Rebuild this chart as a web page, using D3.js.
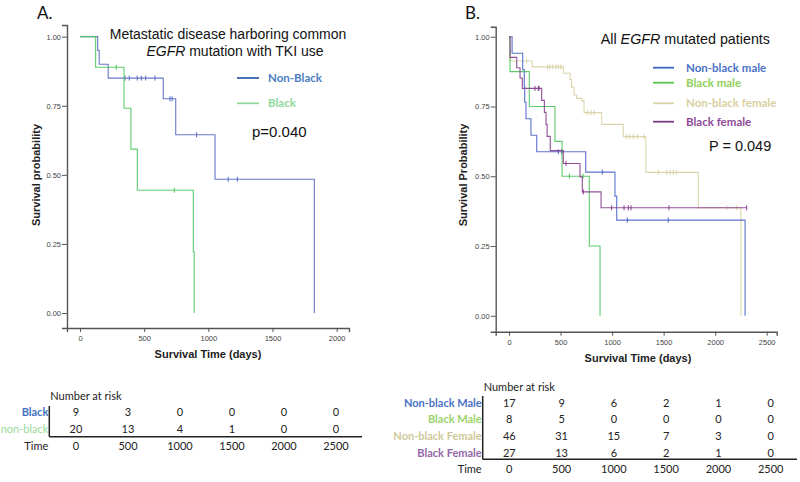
<!DOCTYPE html>
<html><head><meta charset="utf-8">
<script src="https://cdn.jsdelivr.net/npm/d3@7"></script>
<style>body{margin:0;background:#fff}svg{display:block}</style>
</head><body>
<svg id="c" width="800" height="482"></svg>
<script>
// ---------- Data ----------
const aTicksX = [0, 500, 1000, 1500, 2000];
const aTicksY = [0, 0.25, 0.5, 0.75, 1];
const bTicksX = [0, 500, 1000, 1500, 2000, 2500];
const bTicksY = [0, 0.25, 0.5, 0.75, 1];

// Panel A
const aNonBlackTimes = [0, 138, 150, 220, 649, 746, 1052, 1826];
const aNonBlackSurv = [1, 0.95, 0.90, 0.85, 0.775, 0.645, 0.484, 0];
const aNonBlackCensor = [351, 384, 446, 478, 512, 584, 701, 718, 909, 1155, 1226];
const aBlackTimes = [0, 122, 343, 397, 447, 883, 890];
const aBlackSurv = [1, 0.889, 0.741, 0.593, 0.444, 0.222, 0];
const aBlackCensor = [283, 735];

// Panel B
const bNbMaleTimes = [0, 30, 133, 148, 152, 165, 213, 269, 744, 1028, 1045, 2290];
const bNbMaleSurv = [1, 0.941, 0.882, 0.824, 0.765, 0.706, 0.647, 0.588, 0.515, 0.429, 0.343, 0];
const bNbMaleCensor = [478, 511, 905, 1148, 1545];
const bBlackMaleTimes = [0, 10, 197, 446, 515, 779, 883];
const bBlackMaleSurv = [1, 0.875, 0.75, 0.625, 0.5, 0.25, 0];
const bBlackMaleCensor = [585, 718];
const bNbFemaleTimes = [0, 10, 226, 527, 592, 608, 631, 657, 705, 728, 899, 1109, 1328, 1836, 2250];
const bNbFemaleSurv = [1, 0.913, 0.892, 0.869, 0.847, 0.819, 0.791, 0.779, 0.771, 0.728, 0.686, 0.642, 0.514, 0.387, 0];
const bNbFemaleCensor = [172, 375, 397, 424, 453, 478, 504, 763, 795, 828, 1142, 1174, 1206, 1245, 1310, 1449, 1530, 1562, 1595, 1627, 2112, 2209];
const bBlackFemaleTimes = [0, 10, 75, 107, 129, 317, 343, 359, 370, 400, 527, 689, 711, 893, 2306];
const bBlackFemaleSurv = [1, 0.926, 0.889, 0.852, 0.815, 0.772, 0.729, 0.686, 0.643, 0.592, 0.546, 0.498, 0.444, 0.387, 0.387];
const bBlackFemaleCensor = [252, 285, 291, 553, 721, 996, 1116, 1158, 1184, 1552, 2306];

// Risk tables
const riskTimes = [0, 500, 1000, 1500, 2000, 2500];
const aRiskLabels = ["Black", "non-black"];
const aRiskBlack = [9, 3, 0, 0, 0, 0];
const aRiskNonBlack = [20, 13, 4, 1, 0, 0];
const bRiskLabels = ["Non-black Male", "Black Male", "Non-black Female", "Black Female"];
const bRiskNbMale = [17, 9, 6, 2, 1, 0];
const bRiskBlackMale = [8, 5, 0, 0, 0, 0];
const bRiskNbFemale = [46, 31, 15, 7, 3, 0];
const bRiskBlackFemale = [27, 13, 6, 2, 1, 0];

const aLegend = ["Non-Black", "Black"];
const bLegend = ["Non-black male", "Black male", "Non-black female", "Black female"];

// ---------- Drawing ----------
const svg = d3.select("#c");
const TICKFONT = "Liberation Sans, Arial, sans-serif";
const CAL = "Lato, 'Open Sans', sans-serif";

function survAt(times, surv, t) {
  let s = surv[0];
  for (let i = 0; i < times.length; i++) { if (times[i] <= t) s = surv[i]; }
  return s;
}

function drawPanel(cfg) {
  const x = d3.scaleLinear().domain(cfg.xDom).range(cfg.xRange);
  const y = d3.scaleLinear().domain(cfg.yDom).range(cfg.yRange);
  const g = svg.append("g");
  const ya = g.append("g").attr("transform", `translate(${cfg.xRange[0]},0)`)
    .call(d3.axisLeft(y).tickValues(cfg.ticksY).tickFormat(d3.format(".2f")).tickSizeOuter(0).tickSize(5).tickPadding(1));
  const xa = g.append("g").attr("transform", `translate(0,${cfg.yRange[0]})`)
    .call(d3.axisBottom(x).tickValues(cfg.ticksX).tickFormat(d3.format("d")).tickSizeOuter(0).tickSize(4).tickPadding(4));
  [ya, xa].forEach(a => {
    a.select(".domain").attr("stroke", "#555").attr("stroke-width", 1.4);
    a.selectAll(".tick line").attr("stroke", "#555").attr("stroke-width", 1);
    a.selectAll("text").attr("font-family", TICKFONT).attr("font-size", 7.5).attr("fill", "#444");
  });
  const line = d3.line().x(d => x(d[0])).y(d => y(d[1])).curve(d3.curveStepAfter);
  cfg.series.forEach(s => {
    const pts = s.times.map((t, i) => [t, s.surv[i]]);
    g.append("path").attr("d", line(pts)).attr("fill", "none")
      .attr("stroke", s.color).attr("stroke-width", 1.1).attr("opacity", 0.9);
    g.selectAll(null).data(s.censor).enter().append("line")
      .attr("x1", d => x(d)).attr("x2", d => x(d))
      .attr("y1", d => y(survAt(s.times, s.surv, d)) - 2.5)
      .attr("y2", d => y(survAt(s.times, s.surv, d)) + 2.5)
      .attr("stroke", s.color).attr("stroke-width", 1);
  });
  g.append("text").attr("x", cfg.xLabelPos[0]).attr("y", cfg.xLabelPos[1])
    .attr("text-anchor", "middle").attr("font-family", TICKFONT).attr("font-weight", "bold")
    .attr("font-size", 11).attr("fill", "#222").text("Survival Time (days)");
  g.append("text").attr("transform", `translate(${cfg.yLabelPos[0]},${cfg.yLabelPos[1]}) rotate(-90)`)
    .attr("text-anchor", "middle").attr("font-family", TICKFONT).attr("font-weight", "bold")
    .attr("font-size", 11).attr("fill", "#222").text(cfg.yLabel);
  return {x, y, g};
}

drawPanel({
  xDom: [-101, 2096], xRange: [67, 349],
  yDom: [-0.054, 1.042], yRange: [328, 25],
  ticksX: aTicksX, ticksY: aTicksY,
  xLabelPos: [208, 358], yLabelPos: [40, 175], yLabel: "Survival probability",
  series: [
    {times: aNonBlackTimes, surv: aNonBlackSurv, censor: aNonBlackCensor, color: "#5669c2"},
    {times: aBlackTimes, surv: aBlackSurv, censor: aBlackCensor, color: "#4fc75f"}
  ]
});
drawPanel({
  xDom: [-129, 2597], xRange: [495.7, 776.7],
  yDom: [-0.057, 1.036], yRange: [331.7, 26.7],
  ticksX: bTicksX, ticksY: bTicksY,
  xLabelPos: [638, 362], yLabelPos: [467, 175], yLabel: "Survival Probability",
  series: [
    {times: bNbFemaleTimes, surv: bNbFemaleSurv, censor: bNbFemaleCensor, color: "#d7d2a4"},
    {times: bNbMaleTimes, surv: bNbMaleSurv, censor: bNbMaleCensor, color: "#4a63c6"},
    {times: bBlackMaleTimes, surv: bBlackMaleSurv, censor: bBlackMaleCensor, color: "#4dc45a"},
    {times: bBlackFemaleTimes, surv: bBlackFemaleSurv, censor: bBlackFemaleCensor, color: "#873d8e"}
  ]
});

function txt(x, y, s, opts = {}) {
  const t = svg.append("text").attr("x", x).attr("y", y)
    .attr("font-family", opts.font || TICKFONT).attr("font-size", opts.size || 12)
    .attr("fill", opts.fill || "#111").attr("text-anchor", opts.anchor || "start");
  if (opts.weight) t.attr("font-weight", opts.weight);
  t.text(s);
  return t;
}
txt(37, 19, "A.", {size: 17, font: CAL});
txt(465, 19, "B.", {size: 17, font: CAL});

svg.append("text").attr("x", 228).attr("y", 39).attr("text-anchor", "middle")
  .attr("font-family", TICKFONT).attr("font-size", 14).attr("fill", "#111")
  .text("Metastatic disease harboring common");
const tA2 = svg.append("text").attr("x", 235).attr("y", 55.5).attr("text-anchor", "middle")
  .attr("font-family", TICKFONT).attr("font-size", 14).attr("fill", "#111");
tA2.append("tspan").attr("font-style", "italic").text("EGFR");
tA2.append("tspan").text(" mutation with TKI use");

const tB = svg.append("text").attr("x", 770).attr("y", 44).attr("text-anchor", "end")
  .attr("font-family", TICKFONT).attr("font-size", 14.3).attr("fill", "#111");
tB.append("tspan").text("All ");
tB.append("tspan").attr("font-style", "italic").text("EGFR");
tB.append("tspan").text(" mutated patients");

txt(252, 137, "p=0.040", {size: 15});
txt(709, 151, "P = 0.049", {size: 14.5});

const aLegLine = ["#2f63aa", "#8fd99b"];
const aLegText = ["#4a7ec2", "#8fd99b"];
aLegend.forEach((s, i) => {
  const yy = [78, 103.3][i];
  svg.append("line").attr("x1", 237).attr("x2", 259).attr("y1", yy).attr("y2", yy)
    .attr("stroke", aLegLine[i]).attr("stroke-width", 1.8);
  txt(268, yy + 4, s, {size: 11.5, font: CAL, weight: "bold", fill: aLegText[i]});
});
const bLegLine = ["#3c67c4", "#58c84a", "#d8d3a8", "#7b3a88"];
const bLegText = ["#4a72c6", "#8fd25a", "#d6d1a0", "#8e4b98"];
bLegend.forEach((s, i) => {
  const yy = [67.7, 82.7, 103.3, 121.7][i];
  svg.append("line").attr("x1", 653).attr("x2", 674).attr("y1", yy).attr("y2", yy)
    .attr("stroke", bLegLine[i]).attr("stroke-width", 1.8);
  txt(686, yy + 4, s, {size: 11.5, font: CAL, weight: "bold", fill: bLegText[i]});
});

function riskTable(cfg) {
  const x = d3.scalePoint().domain(riskTimes).range(cfg.colRange);
  txt(cfg.lineX + 1, cfg.headY, "Number at risk", {size: 11, font: CAL, fill: "#222"});
  cfg.rows.forEach((r, i) => {
    const yy = cfg.rowY[i];
    txt(cfg.lineX - 1, yy, r.label, {size: 11, font: CAL, anchor: "end", fill: r.color, weight: r.weight});
    r.values.forEach((v, j) => txt(x(riskTimes[j]), yy, v, {size: 11, font: CAL, anchor: "middle", fill: "#222"}));
  });
  txt(cfg.lineX - 1, cfg.timeY, "Time", {size: 11, font: CAL, anchor: "end", fill: "#222"});
  riskTimes.forEach(t => txt(x(t), cfg.timeY, t, {size: 11, font: CAL, anchor: "middle", fill: "#222"}));
  svg.append("line").attr("x1", cfg.lineX).attr("x2", cfg.lineX).attr("y1", cfg.vTop).attr("y2", cfg.hY)
    .attr("stroke", "#222").attr("stroke-width", 1.5);
  svg.append("line").attr("x1", cfg.lineX).attr("x2", cfg.hEnd).attr("y1", cfg.hY).attr("y2", cfg.hY)
    .attr("stroke", "#222").attr("stroke-width", 1.5);
}
riskTable({
  colRange: [76, 336], lineX: 49.3, headY: 400, timeY: 450, vTop: 406, hY: 436.7, hEnd: 362,
  rowY: [416, 433],
  rows: [
    {label: aRiskLabels[0], values: aRiskBlack, color: "#3f73bf", weight: "bold"},
    {label: aRiskLabels[1], values: aRiskNonBlack, color: "#9adb9a"}
  ]
});
riskTable({
  colRange: [509.3, 770.7], lineX: 482.7, headY: 390.7, timeY: 473.3, vTop: 396, hY: 459.3, hEnd: 797,
  rowY: [406.7, 423.3, 440, 456.7],
  rows: [
    {label: bRiskLabels[0], values: bRiskNbMale, color: "#4a72c6", weight: "bold"},
    {label: bRiskLabels[1], values: bRiskBlackMale, color: "#9bd46a", weight: "bold"},
    {label: bRiskLabels[2], values: bRiskNbFemale, color: "#cfc99a", weight: "bold"},
    {label: bRiskLabels[3], values: bRiskBlackFemale, color: "#9467a8", weight: "bold"}
  ]
});
</script>
</body></html>
